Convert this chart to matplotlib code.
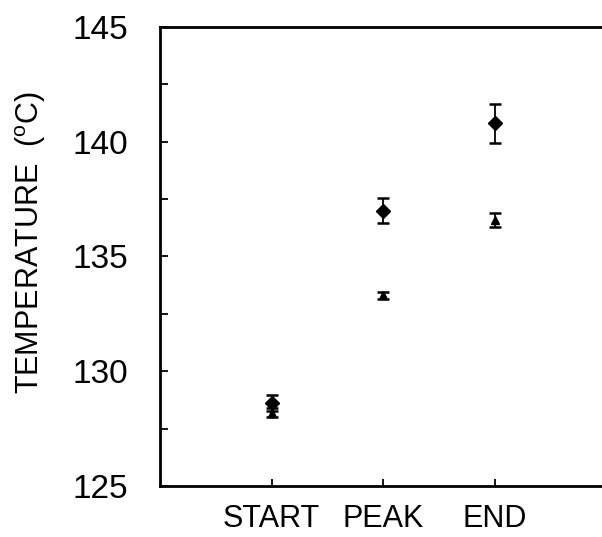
import matplotlib
matplotlib.use("Agg")
import matplotlib.pyplot as plt

plt.rcParams['font.family'] = ['Liberation Sans', 'DejaVu Sans']
plt.rcParams['mathtext.fontset'] = 'custom'
plt.rcParams['mathtext.rm'] = 'Liberation Sans'

# melting stages and temperatures (deg C) for the two samples
stages = ['START', 'PEAK', 'END']
diamond_mean = [128.6, 137.0, 140.8]
diamond_err = [0.35, 0.55, 0.85]
triangle_mean = [128.2, 133.3, 136.6]
triangle_err = [0.2, 0.17, 0.3]

x = [1, 2, 3]

fig = plt.figure(figsize=(6.02, 5.37), dpi=100)
ax = fig.add_axes([0.2658, 0.095, 0.741, 0.855])

ax.errorbar(x, diamond_mean, yerr=diamond_err, fmt='D', color='black',
            markersize=7, capsize=4.5, capthick=1.8, elinewidth=1.3)
ax.errorbar(x, triangle_mean, yerr=triangle_err, fmt='^', color='black',
            markersize=6, capsize=4.5, capthick=1.8, elinewidth=1.3)

ax.set_xlim(0, 4)
ax.set_ylim(125, 145)
ax.set_xticks(x)
ax.set_xticklabels(stages)
ax.set_yticks([125, 130, 135, 140, 145])
ax.set_yticks([127.5, 132.5, 137.5, 142.5], minor=True)

ax.tick_params(axis='y', which='both', direction='in', length=6, width=1.3,
               labelsize=24, pad=23)
ax.tick_params(axis='x', direction='in', length=5, width=1.3,
               labelsize=22, pad=13)
for s in ax.spines.values():
    s.set_linewidth(2)

ax.set_ylabel('TEMPERATURE  ($^{\\rm o}$C)', fontsize=22)
ax.yaxis.set_label_coords(-0.25, 0.53)

fig.savefig('out.png', dpi=100)
